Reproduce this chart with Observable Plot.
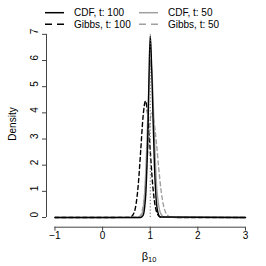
<!DOCTYPE html>
<html><head><meta charset="utf-8">
<script src="https://cdn.jsdelivr.net/npm/d3@7"></script>
<script src="https://cdn.jsdelivr.net/npm/@observablehq/plot@0.6"></script>
<style>body{margin:0;background:#fff}</style>
</head><body><div id="chart"></div>
<script>
// ---- data ----
const cdf100X   = [-1, 0.80, 0.85, 0.88, 0.91, 0.94, 0.96, 0.98, 1.00, 1.02, 1.04, 1.06, 1.09, 1.12, 1.16, 1.21, 3];
const cdf100Y   = [0, 0, 0.08, 0.35, 1.0, 2.5, 4.0, 5.9, 6.95, 6.3, 5.1, 3.7, 1.9, 0.8, 0.2, 0.02, 0];
const gibbs100X = [-1, 0.55, 0.60, 0.65, 0.70, 0.75, 0.80, 0.85, 0.90, 0.95, 1.00, 1.05, 1.10, 1.15, 1.20, 1.25, 3];
const gibbs100Y = [0, 0.005, 0.03, 0.14, 0.48, 1.28, 2.56, 3.87, 4.45, 3.87, 2.56, 1.28, 0.48, 0.14, 0.03, 0.005, 0];
const cdf50X    = [-1, 0.76, 0.81, 0.86, 0.89, 0.92, 0.95, 0.98, 1.01, 1.04, 1.07, 1.10, 1.13, 1.17, 1.22, 1.30, 3];
const cdf50Y    = [0, 0, 0.06, 0.45, 1.15, 2.37, 3.97, 5.4, 6.0, 5.4, 4.0, 2.5, 1.3, 0.55, 0.15, 0.01, 0];
const gibbs50X  = [-1, 0.73, 0.78, 0.83, 0.88, 0.93, 0.98, 1.03, 1.08, 1.13, 1.18, 1.23, 1.28, 1.33, 1.38, 1.43, 1.50, 3];
const gibbs50Y  = [0, 0.01, 0.05, 0.25, 0.85, 2.0, 3.35, 4.0, 3.65, 2.85, 1.85, 1.0, 0.45, 0.17, 0.06, 0.015, 0, 0];
const seriesNames = ["CDF, t: 100", "Gibbs, t: 100", "CDF, t: 50", "Gibbs, t: 50"];
const trueValue = [1];
const xTicks = [-1, 0, 1, 2, 3];
const yTicks = [0, 1, 2, 3, 4, 5, 6, 7];
const yLabel = "Density";
const xLabelMain = "β", xLabelSub = "10";

// ---- styles ----
const BLACK = "#000", GRAY = "#a0a0a0";
const styleOf = {
  "CDF, t: 100":   {stroke: BLACK, dash: null},
  "Gibbs, t: 100": {stroke: BLACK, dash: "4,3"},
  "CDF, t: 50":    {stroke: GRAY,  dash: null},
  "Gibbs, t: 50":  {stroke: GRAY,  dash: "4,3"}
};
const toRows = (xs, ys) => xs.map((x, i) => ({x, y: ys[i]}));
const series = {
  "CDF, t: 100": toRows(cdf100X, cdf100Y),
  "Gibbs, t: 100": toRows(gibbs100X, gibbs100Y),
  "CDF, t: 50": toRows(cdf50X, cdf50Y),
  "Gibbs, t: 50": toRows(gibbs50X, gibbs50Y)
};
const X_DOMAIN = [-1.178, 3.168];
const Y_DOMAIN = [-0.37, 7.30];
const drawOrder = ["Gibbs, t: 100", "Gibbs, t: 50", "CDF, t: 50", "CDF, t: 100"];
const fmt = d => (d < 0 ? "\u2212" + Math.abs(d) : String(d));

const lineMarks = drawOrder.map(n => Plot.line(series[n], {
  x: "x", y: "y", stroke: styleOf[n].stroke, strokeWidth: 1.4,
  strokeDasharray: styleOf[n].dash, curve: "monotone-x"
}));

const svg = Plot.plot({
  width: 266, height: 266,
  marginLeft: 46, marginRight: 13, marginTop: 26, marginBottom: 39.3,
  style: {fontFamily: "'Liberation Sans', Arial, sans-serif", fontSize: "10px", background: "#fff", color: "#000"},
  x: {domain: X_DOMAIN},
  y: {domain: Y_DOMAIN},
  marks: [
    ...lineMarks,
    Plot.ruleX(trueValue, {y1: yTicks[0], y2: yTicks[yTicks.length - 1], stroke: "#666", strokeDasharray: "1.2,2", strokeWidth: 1}),
    Plot.ruleY([Y_DOMAIN[0]], {x1: xTicks[0], x2: xTicks[xTicks.length - 1], stroke: "#444"}),
    Plot.ruleX([X_DOMAIN[0]], {y1: yTicks[0], y2: yTicks[yTicks.length - 1], stroke: "#444"}),
    Plot.axisX({ticks: xTicks, tickSize: 4, tickPadding: 1, tickFormat: fmt, label: null, stroke: "#444", fill: "#000"}),
    Plot.axisY({ticks: yTicks, tickSize: 4, tickFormat: () => "", label: null, stroke: "#444"}),
    Plot.text(yTicks, {y: d => d, text: d => String(d), frameAnchor: "left", dx: -12, rotate: -90, fill: "#000"})
  ]
});
document.getElementById("chart").appendChild(svg);

// axis titles
const s = d3.select(svg);
s.append("text").attr("transform", "translate(12,124) rotate(-90)")
  .attr("text-anchor", "middle").attr("dominant-baseline", "central")
  .attr("font-size", 10).text(yLabel);
const xt = s.append("text").attr("x", 149).attr("y", 260).attr("text-anchor", "middle").attr("font-size", 11);
xt.append("tspan").text(xLabelMain);
xt.append("tspan").attr("font-size", 7.5).attr("dy", 2).text(xLabelSub);

// legend (two columns, two rows)
const legendPos = {
  "CDF, t: 100":   {x: 45,  y: 12.7},
  "Gibbs, t: 100": {x: 45,  y: 24.3},
  "CDF, t: 50":    {x: 139, y: 12.7},
  "Gibbs, t: 50":  {x: 139, y: 24.3}
};
const lg = s.append("g");
seriesNames.forEach(n => {
  const p = legendPos[n], st = styleOf[n];
  lg.append("line").attr("x1", p.x).attr("x2", p.x + 19).attr("y1", p.y).attr("y2", p.y)
    .attr("stroke", st.stroke).attr("stroke-width", 1.5)
    .attr("stroke-dasharray", st.dash ? "7,5" : null);
  lg.append("text").attr("x", p.x + 29).attr("y", p.y).attr("dominant-baseline", "central")
    .attr("text-anchor", "start").attr("font-size", 10).text(n);
});
</script>
</body></html>
